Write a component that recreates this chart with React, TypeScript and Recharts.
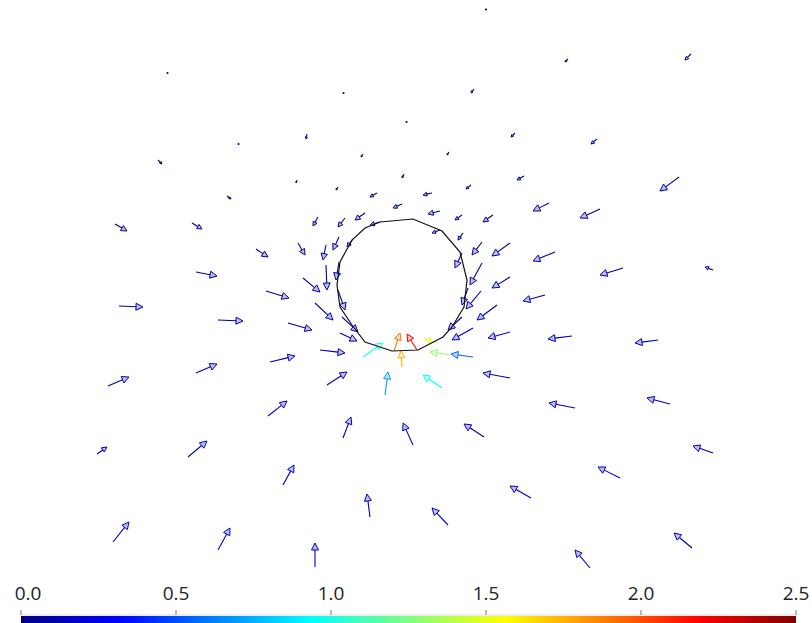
import React from "react";
import {
  ScatterChart,
  Scatter,
  XAxis,
  YAxis,
  ReferenceLine,
  ComposedChart,
  Bar,
} from "recharts";

// ---- data (field sampled on a pixel-like grid, y grows downward) ----
type Vec = [number, number, number, number, number]; // x1, y1, x2, y2, magnitude

const farArrows: Vec[] = [
  [487, 9, 485, 10, 0.01],
  [168, 72, 167, 74, 0.01],
  [344, 92, 343, 94, 0.01],
  [568, 59, 565, 62, 0.01],
  [691, 54, 685, 60, 0.02],
  [474, 89, 471, 93, 0.01],
  [407, 121, 406, 123, 0.01],
  [307, 134, 306, 139, 0.01],
  [239, 143, 238, 145, 0.01],
  [158, 160, 162, 164, 0.01],
  [363, 154, 361, 157, 0.01],
  [297, 180, 296, 183, 0.01],
  [338, 187, 336, 190, 0.02],
  [227, 196, 231, 199, 0.02],
  [404, 174, 402, 178, 0.02],
  [515, 133, 511, 137, 0.02],
  [597, 139, 591, 144, 0.02],
  [449, 152, 447, 155, 0.02],
  [471, 185, 466, 189, 0.02],
  [524, 176, 517, 180, 0.03],
];

const upperArrows: Vec[] = [
  [679, 177, 660, 191, 0.07],
  [377, 193, 370, 197, 0.03],
  [432, 193, 423, 195, 0.03],
  [402, 204, 393, 208, 0.03],
  [440, 211, 428, 214, 0.03],
  [365, 213, 355, 220, 0.03],
  [345, 218, 338, 227, 0.03],
  [318, 217, 313, 226, 0.03],
  [462, 215, 455, 220, 0.03],
  [493, 215, 483, 222, 0.04],
  [380, 222, 370, 225, 0.03],
  [440, 230, 432, 233, 0.03],
  [549, 203, 533, 211, 0.06],
  [600, 209, 580, 218, 0.06],
];

const ringArrows: Vec[] = [
  [463, 233, 458, 240, 0.04],
  [353, 239, 347, 247, 0.05],
  [339, 237, 333, 250, 0.05],
  [298, 243, 305, 255, 0.05],
  [326, 245, 323, 260, 0.06],
  [482, 242, 472, 255, 0.06],
  [510, 243, 492, 256, 0.07],
  [462, 253, 455, 268, 0.07],
  [339, 262, 336, 280, 0.07],
  [326, 265, 327, 290, 0.08],
  [482, 263, 470, 285, 0.08],
  [510, 277, 492, 288, 0.08],
  [303, 278, 320, 292, 0.08],
  [338, 290, 345, 310, 0.08],
  [468, 288, 462, 305, 0.08],
  [481, 291, 466, 309, 0.09],
  [497, 305, 477, 320, 0.09],
  [315, 303, 333, 320, 0.09],
  [288, 323, 312, 330, 0.1],
  [342, 317, 358, 332, 0.11],
  [340, 333, 357, 341, 0.12],
  [462, 317, 448, 330, 0.12],
  [473, 328, 452, 340, 0.15],
  [510, 332, 488, 338, 0.11],
  [320, 350, 345, 353, 0.13],
  [510, 378, 483, 373, 0.13],
  [327, 385, 347, 372, 0.15],
];

const hotArrows: Vec[] = [
  [363, 357, 383, 343, 1.0],
  [394, 351, 400, 333, 1.9],
  [417, 350, 407, 334, 2.2],
  [402, 367, 401, 351, 1.75],
  [438, 343, 425, 339, 1.5],
  [450, 355, 430, 352, 1.3],
  [473, 357, 451, 354, 0.55],
  [385, 395, 388, 372, 0.7],
  [442, 388, 423, 375, 0.95],
];

const leftArrows: Vec[] = [
  [115, 224, 127, 231, 0.05],
  [192, 223, 202, 229, 0.05],
  [256, 249, 268, 257, 0.06],
  [196, 272, 217, 276, 0.08],
  [266, 291, 289, 298, 0.09],
  [119, 306, 143, 307, 0.09],
  [218, 320, 243, 321, 0.1],
  [270, 362, 295, 356, 0.12],
  [196, 373, 217, 364, 0.12],
  [108, 386, 129, 377, 0.12],
  [268, 416, 287, 401, 0.13],
  [97, 454, 107, 447, 0.12],
  [188, 457, 207, 441, 0.13],
  [283, 485, 294, 465, 0.14],
  [113, 542, 129, 522, 0.15],
  [218, 550, 230, 528, 0.16],
];

const lowerArrows: Vec[] = [
  [343, 438, 351, 417, 0.15],
  [413, 445, 403, 423, 0.15],
  [484, 437, 464, 424, 0.14],
  [370, 517, 367, 494, 0.15],
  [448, 525, 432, 508, 0.16],
  [531, 498, 510, 486, 0.14],
  [315, 567, 315, 543, 0.16],
];

const rightArrows: Vec[] = [
  [555, 252, 533, 261, 0.08],
  [623, 268, 600, 275, 0.08],
  [713, 270, 705, 267, 0.07],
  [545, 295, 523, 301, 0.09],
  [572, 336, 548, 339, 0.12],
  [658, 340, 635, 343, 0.12],
  [575, 408, 549, 403, 0.13],
  [670, 404, 647, 398, 0.13],
  [713, 453, 693, 446, 0.14],
  [620, 478, 598, 467, 0.14],
  [692, 548, 674, 533, 0.16],
  [590, 568, 575, 550, 0.16],
];

// cylinder outline (polygon)
const circleX = [380, 413, 442, 460, 467, 464, 452, 443, 418, 392, 365, 352, 340, 337, 340, 352, 365, 380];
const circleY = [222, 219, 231, 252, 280, 307, 327, 337, 350, 351, 342, 325, 307, 285, 262, 240, 228, 222];

const colorTicks = [0, 0.5, 1.0, 1.5, 2.0, 2.5];
const colorBarRange = [{ name: "speed", v: 2.5 }];
const vMax = 2.5;

// ---- helpers ----
const W = 812;
const H = 572;

function jet(v: number): string {
  const t = Math.max(0, Math.min(1, v / vMax));
  const c = (x: number) => Math.round(Math.max(0, Math.min(1, x)) * 255);
  const r = c(1.5 - Math.abs(4 * t - 3));
  const g = c(1.5 - Math.abs(4 * t - 2));
  const b = c(1.5 - Math.abs(4 * t - 1));
  return `rgb(${r},${g},${b})`;
}

function ArrowShape(props: any) {
  const { x1, y1, x2, y2, color } = props;
  if ([x1, y1, x2, y2].some((n) => typeof n !== "number" || isNaN(n))) return null;
  const dx = x2 - x1;
  const dy = y2 - y1;
  const len = Math.sqrt(dx * dx + dy * dy);
  if (len < 3) {
    return <circle cx={(x1 + x2) / 2} cy={(y1 + y2) / 2} r={1.1} fill={color} />;
  }
  const ux = dx / len;
  const uy = dy / len;
  const h = Math.min(7, len * 0.42);
  const w = h * 0.5;
  const bx = x2 - ux * h;
  const by = y2 - uy * h;
  const p1 = `${x2},${y2}`;
  const p2 = `${bx - uy * w},${by + ux * w}`;
  const p3 = `${bx + uy * w},${by - ux * w}`;
  return (
    <g>
      <line x1={x1} y1={y1} x2={bx} y2={by} stroke={color} strokeWidth={1.1} />
      <polygon points={`${p1} ${p2} ${p3}`} fill={color} fillOpacity={0.25} stroke={color} strokeWidth={1} strokeLinejoin="round" />
    </g>
  );
}

const allArrows: Vec[] = [
  ...farArrows,
  ...upperArrows,
  ...ringArrows,
  ...leftArrows,
  ...lowerArrows,
  ...rightArrows,
  ...hotArrows,
];

const circleData = circleX.map((x, i) => ({ x, y: circleY[i] }));

function ColorTick(props: any) {
  const { x, y, payload, index } = props;
  const shift = index === 0 ? 7 : 0;
  return (
    <text
      x={x + shift}
      y={y}
      textAnchor="middle"
      fill="#222"
      fontSize={19}
      fontFamily="'Open Sans', 'Noto Sans', sans-serif"
    >
      {Number(payload.value).toFixed(1)}
    </text>
  );
}

function GradientBar(props: any) {
  const { x, y, width, height } = props;
  if ([x, y, width, height].some((n) => typeof n !== "number" || isNaN(n))) return null;
  return (
    <g>
      <defs>
        <linearGradient id="jetGrad" x1="0" y1="0" x2="1" y2="0">
          <stop offset="0" stopColor="#000080" />
          <stop offset="0.125" stopColor="#0000ff" />
          <stop offset="0.375" stopColor="#00ffff" />
          <stop offset="0.625" stopColor="#ffff00" />
          <stop offset="0.875" stopColor="#ff0000" />
          <stop offset="1" stopColor="#800000" />
        </linearGradient>
      </defs>
      <rect x={x} y={y} width={width} height={height} fill="url(#jetGrad)" />
    </g>
  );
}

export default function App() {
  return (
    <div style={{ position: "absolute", left: 0, top: 0, width: W, height: 623, background: "#fff" }}>
      <ScatterChart width={W} height={H} margin={{ top: 0, right: 0, bottom: 0, left: 0 }}>
        <XAxis type="number" dataKey="x" domain={[0, W]} hide />
        <YAxis type="number" dataKey="y" domain={[0, H]} reversed hide />
        <Scatter
          data={circleData}
          line={{ stroke: "#111", strokeWidth: 1.2 }}
          lineType="joint"
          shape={() => <g />}
          isAnimationActive={false}
        />
        {allArrows.map((a, i) => (
          <ReferenceLine
            key={i}
            segment={[
              { x: a[0], y: a[1] },
              { x: a[2], y: a[3] },
            ]}
            ifOverflow="visible"
            stroke={jet(a[4])}
            shape={(p: any) => <ArrowShape {...p} color={jet(a[4])} />}
          />
        ))}
      </ScatterChart>
      <ComposedChart
        width={W}
        height={51}
        layout="vertical"
        data={colorBarRange}
        margin={{ top: 3, right: 16, bottom: 0, left: 21 }}
      >
        <XAxis
          type="number"
          dataKey="v"
          domain={[0, 2.5]}
          ticks={colorTicks}
          orientation="top"
          height={40}
          tickSize={5}
          tickMargin={10}
          axisLine={{ stroke: "#d8d8d0" }}
          tickLine={{ stroke: "#777" }}
          tick={<ColorTick />}
          interval={0}
        />
        <YAxis type="category" dataKey="name" hide />
        <Bar
          dataKey="v"
          barSize={7}
          shape={(p: any) => <GradientBar {...p} />}
          isAnimationActive={false}
        />
      </ComposedChart>
    </div>
  );
}
